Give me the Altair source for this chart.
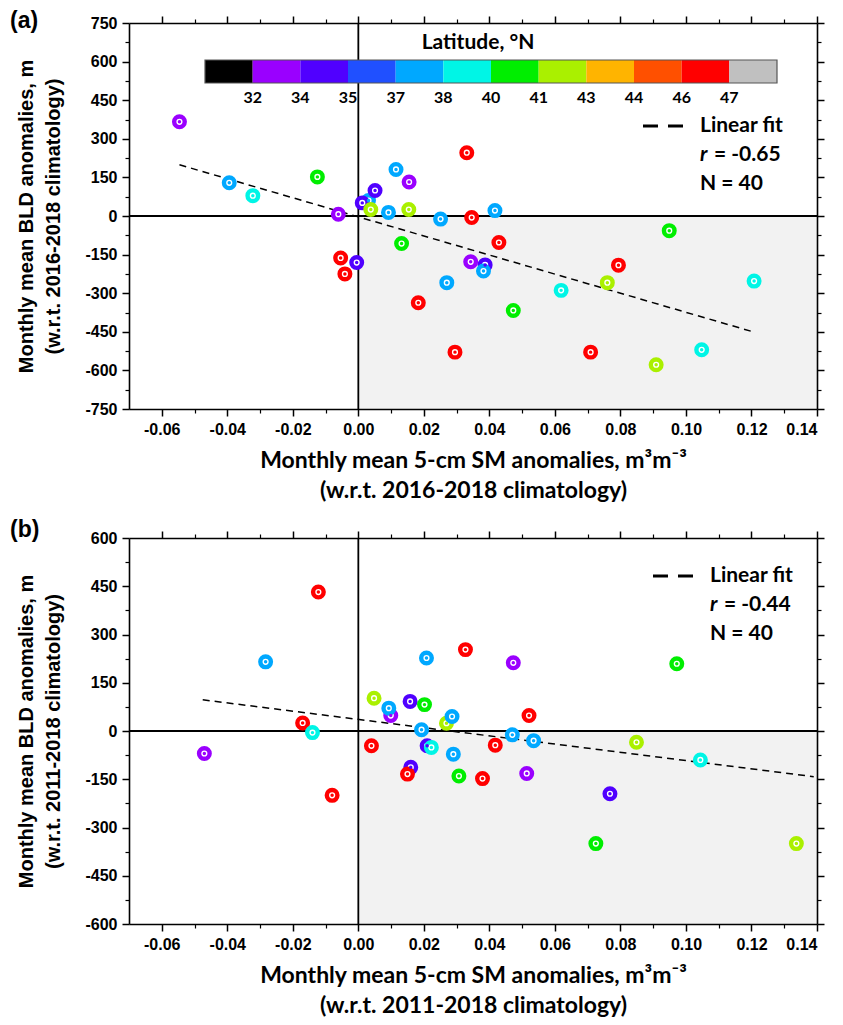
import altair as alt
import pandas as pd

# ---------------- data ----------------
# Panel (a): anomalies w.r.t. 2016-2018 climatology
sm_a = [-0.0546, -0.0394, -0.0322, -0.0125, -0.0061, -0.0054, -0.0005, -0.0041, 0.0031, 0.0012,
        0.0038, 0.0051, 0.0092, 0.0115, 0.0155, 0.0154, 0.0132, 0.0331, 0.0251, 0.0346,
        0.0417, 0.0429, 0.0343, 0.0387, 0.0382, 0.0270, 0.0183, 0.0473, 0.0295, 0.0619,
        0.0760, 0.0794, 0.0709, 0.0949, 0.0909, 0.1048, 0.1208]
bld_a = [366, 129, 79, 152, 7, -163, -181, -225, 60, 51,
         25, 99, 14, 181, 132, 25, -107, 246, -12, -6,
         21, -103, -178, -190, -214, -259, -337, -367, -529, -289,
         -259, -191, -529, -57, -578, -520, -253]
lat_a = [33, 37.5, 39, 40.5, 33, 46.5, 34.5, 46.5, 37.5, 34.5,
         42, 34.5, 37.5, 37.5, 33, 42, 40.5, 46.5, 37.5, 46.5,
         37.5, 46.5, 33, 34.5, 37.5, 37.5, 46.5, 40.5, 46.5, 39,
         42, 46.5, 46.5, 40.5, 42, 39, 39]
fit_a_x = [-0.0546, 0.121]
fit_a_y = [199, -452]

# Panel (b): anomalies w.r.t. 2011-2018 climatology
sm_b = [-0.047, -0.0283, -0.017, -0.014, -0.0122, -0.008, 0.004, 0.0048, 0.0099, 0.0093,
        0.0158, 0.0202, 0.0208, 0.0193, 0.0269, 0.0286, 0.021, 0.0223, 0.029, 0.0327,
        0.016, 0.015, 0.0307, 0.0379, 0.0418, 0.047, 0.0473, 0.0514, 0.0521, 0.0535,
        0.0725, 0.0768, 0.0849, 0.0972, 0.1044, 0.1337]
bld_b = [-70, 215, 25, -5, 432, -200, -46, 102, 48, 71,
         92, 82, 227, 4, 24, 45, -46, -51, -72, 253,
         -113, -134, -140, -148, -44, -12, 212, -132, 48, -30,
         -350, -195, -35, 209, -90, -350]
lat_b = [33, 37.5, 46.5, 39, 46.5, 46.5, 46.5, 42, 33, 37.5,
         34.5, 40.5, 37.5, 37.5, 42, 37.5, 34.5, 39, 37.5, 46.5,
         34.5, 46.5, 40.5, 46.5, 46.5, 37.5, 33, 33, 46.5, 37.5,
         40.5, 34.5, 42, 40.5, 39, 42]
fit_b_x = [-0.0475, 0.139]
fit_b_y = [97, -142]

lat_breaks = [32, 34, 35, 37, 38, 40, 41, 43, 44, 46, 47]
lat_colors = ["#000000", "#9A00FF", "#5000FF", "#2050FF", "#00A8FF", "#00F5E6",
              "#00EE00", "#AAF000", "#FFB400", "#FF5000", "#FF0000", "#C0C0C0"]

x_dom = [-0.07, 0.14]
x_ticks = [-0.06, -0.04, -0.02, 0.0, 0.02, 0.04, 0.06, 0.08, 0.10, 0.12, 0.14]
x_minor = [-0.05, -0.03, -0.01, 0.01, 0.03, 0.05, 0.07, 0.09, 0.11, 0.13]
ya_dom = [-750, 750]
ya_ticks = [-750, -600, -450, -300, -150, 0, 150, 300, 450, 600, 750]
ya_minor = [-675, -525, -375, -225, -75, 75, 225, 375, 525, 675]
yb_dom = [-600, 600]
yb_ticks = [-600, -450, -300, -150, 0, 150, 300, 450, 600]
yb_minor = [-525, -375, -225, -75, 75, 225, 375, 525]

AX_FONT = "Liberation Sans"
T_FONT = "Lato"
W, H = 688, 386


def axis(orient, values, minor=False, labels=False, title=None, fmt="d"):
    kw = dict(orient=orient, values=values, grid=False, tickColor="black",
              tickWidth=1.2 if minor else 1.5, tickSize=4 if minor else 7,
              labels=labels, zindex=1, domain=not minor)
    if not minor:
        kw.update(domainColor="black", domainWidth=1.6)
    if labels:
        kw.update(labelExpr="replace(format(datum.value, '%s'), '\u2212', '-')" % fmt,
                  labelFont=AX_FONT, labelFontSize=16, labelFontWeight="bold",
                  labelColor="black", labelPadding=5)
    if title is not None:
        if orient in ("left", "right"):
            kw.update(title=title, titleFont=AX_FONT, titleFontSize=20, titleFontWeight="bold",
                      titleColor="black", titleLineHeight=27, titlePadding=21)
        else:
            kw.update(title=title, titleFont=T_FONT, titleFontSize=23, titleFontWeight="bold",
                      titleColor="black", titleLineHeight=30, titlePadding=12)
    else:
        kw["title"] = None
    return alt.Axis(**kw)


def txt(s, x, y, size=21, italic=False, font=T_FONT, align="left"):
    kw = dict(text=s, font=font, fontSize=size, fontWeight="bold", color="black",
              align=align, baseline="middle")
    if italic:
        kw["fontStyle"] = "italic"
    return alt.Chart(pd.DataFrame({"k": [0]})).mark_text(**kw).encode(
        x=alt.value(x), y=alt.value(y))


def panel(sm, bld, lat, fx, fy, y_dom, y_ticks, y_minor, y_title, x_title,
          tag, tag_y, r_text, leg, colorbar):
    pts = pd.DataFrame({"sm": sm, "bld": bld, "lat": lat})
    fit = pd.DataFrame({"sm": fx, "bld": fy})
    box = pd.DataFrame({"x0": [0.0], "x1": [x_dom[1]], "xl": [x_dom[0]],
                        "y0": [y_dom[0]], "y1": [y_dom[1]], "z": [0.0]})
    xs = alt.Scale(domain=x_dom, nice=False, zero=False)
    ys = alt.Scale(domain=y_dom, nice=False, zero=False)
    cs = alt.Scale(type="threshold", domain=lat_breaks, range=lat_colors)

    shade = alt.Chart(box).mark_rect(color="#f2f2f2").encode(
        x=alt.X("x0:Q", scale=xs, axis=axis("top", x_ticks)),
        x2="x1:Q",
        y=alt.Y("y0:Q", scale=ys, axis=axis("right", y_ticks)),
        y2="z:Q")
    vline = alt.Chart(box).mark_rule(color="black", strokeWidth=1.8).encode(
        x=alt.X("z:Q", scale=xs, axis=axis("top", x_minor, minor=True)),
        y=alt.Y("y0:Q", scale=ys, axis=axis("right", y_minor, minor=True)),
        y2="y1:Q")
    hline = alt.Chart(box).mark_rule(color="black", strokeWidth=1.8).encode(
        x=alt.X("xl:Q", scale=xs, axis=None),
        x2="x1:Q",
        y=alt.Y("z:Q", scale=ys, axis=None))
    fitl = alt.Chart(fit).mark_line(color="black", strokeWidth=1.5, strokeDash=[7, 5]).encode(
        x=alt.X("sm:Q", scale=xs, axis=axis("bottom", x_minor, minor=True)),
        y=alt.Y("bld:Q", scale=ys, axis=axis("left", y_minor, minor=True)))
    rings = alt.Chart(pts).mark_point(shape="circle", size=112, strokeWidth=4.4,
                                      fill="white", fillOpacity=1, opacity=1).encode(
        x=alt.X("sm:Q", scale=xs,
                axis=axis("bottom", x_ticks, labels=True, title=x_title, fmt=".2f")),
        y=alt.Y("bld:Q", scale=ys,
                axis=axis("left", y_ticks, labels=True, title=y_title, fmt="d")),
        stroke=alt.Stroke("lat:Q", scale=cs, legend=None))
    dots = alt.Chart(pts).mark_point(shape="circle", size=12, filled=True, opacity=1).encode(
        x=alt.X("sm:Q", scale=xs, axis=None),
        y=alt.Y("bld:Q", scale=ys, axis=None),
        color=alt.Color("lat:Q", scale=cs, legend=None))

    inner = alt.layer(shade, vline, hline, fitl, rings, dots).resolve_axis(
        x="independent", y="independent")

    extra = []
    if colorbar:
        cb = pd.DataFrame({"i": list(range(12)), "i2": list(range(1, 13)), "c": lat_colors})
        cbs = alt.Scale(domain=[0, 12], range=[76, 648], nice=False, zero=False)
        extra.append(alt.Chart(cb).mark_rect().encode(
            x=alt.X("i:Q", scale=cbs, axis=None), x2="i2:Q",
            y=alt.value(37), y2=alt.value(60),
            fill=alt.Color("c:N", scale=None)))
        extra.append(alt.Chart(pd.DataFrame({"a": [0], "b": [12]})).mark_rect(
            fill="white", fillOpacity=0, stroke="#555555", strokeWidth=1.2).encode(
            x=alt.X("a:Q", scale=cbs, axis=None), x2="b:Q",
            y=alt.value(37), y2=alt.value(60)))
        cbl = pd.DataFrame({"i": list(range(1, 12)), "t": [str(b) for b in lat_breaks]})
        extra.append(alt.Chart(cbl).mark_text(font=T_FONT, fontSize=16, fontWeight="bold",
                                              color="black", baseline="middle").encode(
            x=alt.X("i:Q", scale=cbs, axis=None), y=alt.value(75), text="t:N"))
        extra.append(txt("Latitude, \u00b0N", 349, 20, size=21, align="center"))

    lx, ly = leg
    extra.append(alt.Chart(pd.DataFrame({"k": [0]})).mark_rule(
        color="black", strokeWidth=3, strokeDash=[15, 10]).encode(
        x=alt.value(lx), x2=alt.value(lx + 40), y=alt.value(ly)))
    extra.append(txt("Linear fit", lx + 57, ly))
    extra.append(txt("r", lx + 57, ly + 29, italic=True))
    extra.append(txt("= " + r_text, lx + 71, ly + 29))
    extra.append(txt("N = 40", lx + 57, ly + 58))
    extra.append(txt(tag, -119, tag_y, size=23, font=AX_FONT))

    return alt.layer(inner, *extra).resolve_scale(
        x="independent", y="independent", color="independent").properties(width=W, height=H)


pa = panel(sm_a, bld_a, lat_a, fit_a_x, fit_a_y, ya_dom, ya_ticks, ya_minor,
           ["Monthly mean BLD anomalies, m", "(w.r.t. 2016-2018 climatology)"],
           ["Monthly mean 5-cm SM anomalies, m\u00b3m\u207b\u00b3", "(w.r.t. 2016-2018 climatology)"],
           "(a)", -2, "-0.65", (514, 103), True)
pb = panel(sm_b, bld_b, lat_b, fit_b_x, fit_b_y, yb_dom, yb_ticks, yb_minor,
           ["Monthly mean BLD anomalies, m", "(w.r.t. 2011-2018 climatology)"],
           ["Monthly mean 5-cm SM anomalies, m\u00b3m\u207b\u00b3", "(w.r.t. 2011-2018 climatology)"],
           "(b)", -8, "-0.44", (524, 38), False)

chart = alt.vconcat(pa, pb, spacing=17).properties(
    padding={"left": 2, "top": 2, "right": 0, "bottom": 0},
    background="white"
).configure_view(strokeOpacity=0)

chart.save("out.html", embed_options={"renderer": "svg", "actions": False})
